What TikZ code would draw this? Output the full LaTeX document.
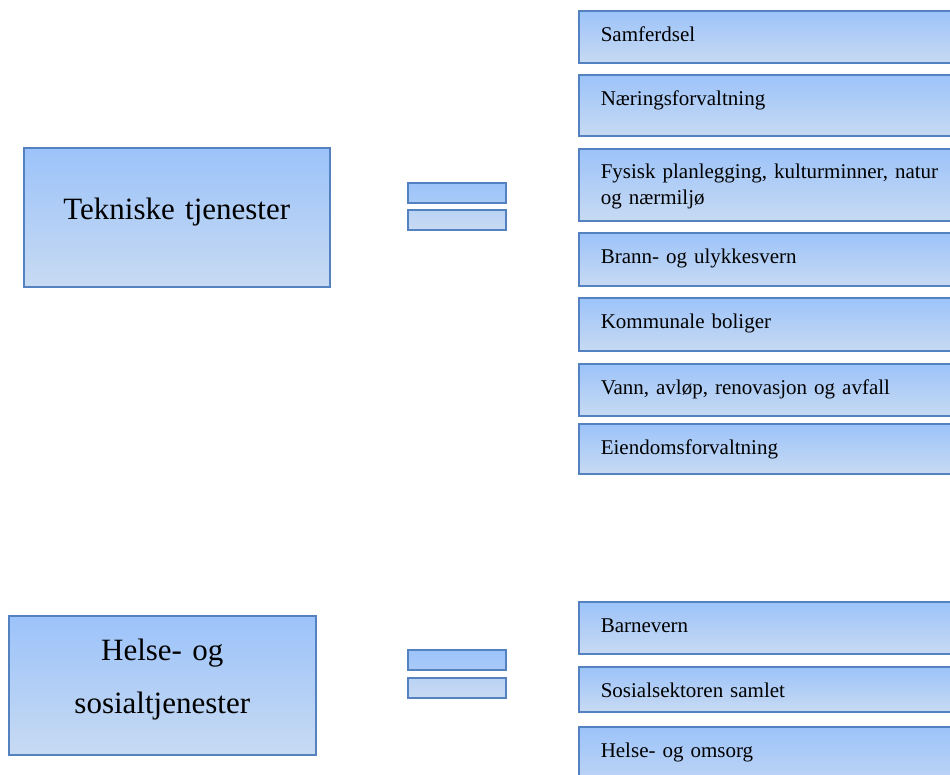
\documentclass[tikz,border=0pt]{standalone}
\usepackage{fontspec}
\setmainfont{Liberation Serif}
\usepackage{xcolor}

\definecolor{boxtop}{RGB}{156,195,250}
\definecolor{boxbot}{RGB}{199,218,242}
\definecolor{boxline}{RGB}{84,130,192}

\begin{document}
\begin{tikzpicture}[
    x=1pt, y=1pt,
    catbox/.style={
        draw=boxline, line width=1.5pt,
        top color=boxtop, bottom color=boxbot,
        anchor=north west,
        align=center,
        inner sep=0pt,
        font=\fontsize{31}{53}\selectfont
    },
    itembox/.style={
        draw=boxline, line width=1.5pt,
        top color=boxtop, bottom color=boxbot,
        anchor=north west,
        align=left,
        text width=360pt,
        inner xsep=22pt, inner ysep=0pt,
        text height=31pt,
        font=\fontsize{21}{20}\selectfont
    },
    eqbar/.style={
        draw=boxline, line width=1.5pt,
        anchor=north west,
        minimum width=98pt, minimum height=20pt,
        inner sep=0pt
    }
]

\useasboundingbox (0,0) rectangle (950,-774);
\clip (0,0) rectangle (950,-774);

% Tekniske tjenester
\node[catbox, text width=306pt, text height=72pt, text depth=67pt]
    (tekn) at (23,-147) {Tekniske tjenester};

\node[eqbar, top color=boxtop, bottom color=boxtop!70!boxbot] (eqa1) at (407,-182) {};
\node[eqbar, top color=boxtop!30!boxbot, bottom color=boxbot] (eqa2) at (407,-209) {};

\node[itembox, text depth=21pt] (samf)    at (578,-10)  {Samferdsel};
\node[itembox, text depth=30pt] (naering) at (578,-74)  {Næringsforvaltning};
\node[itembox, text height=30pt, text depth=42pt,
      font=\fontsize{21}{26}\selectfont] (fysisk) at (578,-148)
    {Fysisk planlegging, kulturminner, natur\\og nærmiljø};
\node[itembox, text depth=22pt] (brann)   at (578,-232) {Brann- og ulykkesvern};
\node[itembox, text depth=22pt] (bolig)   at (578,-297) {Kommunale boliger};
\node[itembox, text depth=21pt] (vann)    at (578,-363) {Vann, avløp, renovasjon og avfall};
\node[itembox, text depth=19pt] (eiendom) at (578,-423) {Eiendomsforvaltning};

% Helse- og sosialtjenester
\node[catbox, text width=307pt, text height=45pt, text depth=94pt]
    (helsos) at (8,-615) {Helse- og\\sosialtjenester};

\node[eqbar, top color=boxtop, bottom color=boxtop!70!boxbot] (eqb1) at (407,-649) {};
\node[eqbar, top color=boxtop!30!boxbot, bottom color=boxbot] (eqb2) at (407,-677) {};

\node[itembox, text depth=21pt] (barnev)  at (578,-601) {Barnevern};
\node[itembox, text depth=14pt] (sosial)  at (578,-666) {Sosialsektoren samlet};
\node[itembox, text depth=40pt] (omsorg)  at (578,-726) {Helse- og omsorg};

\end{tikzpicture}
\end{document}
